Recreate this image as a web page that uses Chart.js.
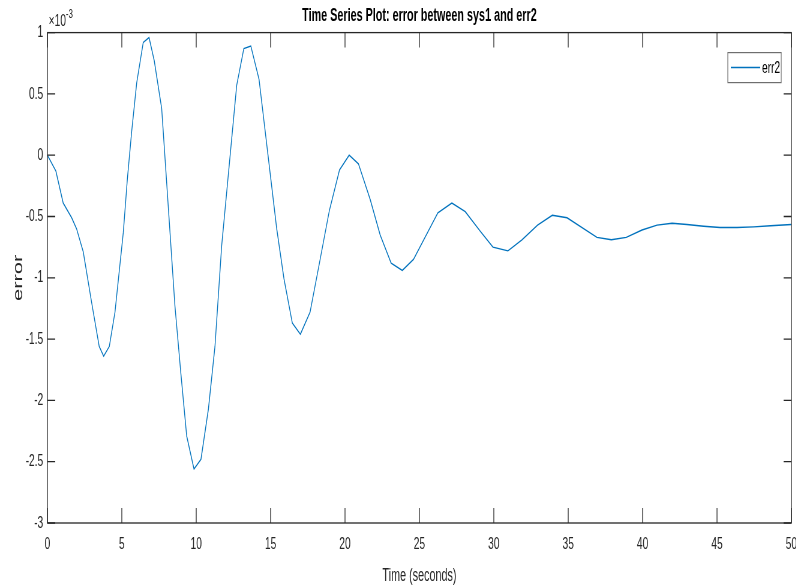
<!DOCTYPE html>
<html>
<head>
<meta charset="utf-8">
<title>Time Series Plot: error between sys1 and err2</title>
<script src="https://cdn.jsdelivr.net/npm/chart.js@4.4.1/dist/chart.umd.min.js"></script>
<style>
    html, body {
        margin: 0;
        padding: 0;
        background: #ffffff;
        overflow: hidden;
    }
    /* the figure is drawn wide and squeezed horizontally, like the reference */
    #plot-wrap {
        width: 1327px;
        height: 588px;
        transform: scaleX(0.6);
        transform-origin: 0 0;
    }
</style>
</head>
<body>
<div id="plot-wrap">
    <canvas id="error-chart" width="1327" height="588"></canvas>
</div>
<script>
// Time series data (error values in units of 1e-3)
const timeValues = [
    0, 0.57, 1.06, 1.63, 1.96, 2.41, 2.97, 3.48, 3.78, 4.16,
    4.54, 5.10, 5.37, 5.66, 6.00, 6.44, 6.83, 7.18, 7.68, 8.57,
    8.96, 9.36, 9.85, 10.32, 10.82, 11.26, 11.71, 12.72, 13.20, 13.67,
    14.22, 15.41, 15.90, 16.46, 17.00, 17.65, 18.28, 18.95, 19.63, 20.28,
    20.90, 21.69, 22.36, 23.10, 23.85, 24.60, 26.24, 27.18, 28.08, 29.09,
    29.94, 30.95, 31.89, 32.94, 33.93, 34.92, 36.93, 37.90, 38.90, 39.96,
    40.97, 41.98, 42.98, 44.10, 45.20, 46.35, 47.47, 48.60, 50.00
];
const errorValues = [
    0, -0.13, -0.39, -0.51, -0.60, -0.79, -1.20, -1.56, -1.64, -1.56,
    -1.28, -0.63, -0.20, 0.19, 0.59, 0.92, 0.96, 0.77, 0.38, -1.23,
    -1.77, -2.29, -2.56, -2.48, -2.07, -1.56, -0.74, 0.57, 0.87, 0.89,
    0.62, -0.60, -1.01, -1.37, -1.46, -1.28, -0.88, -0.45, -0.12, 0.00,
    -0.07, -0.36, -0.65, -0.88, -0.94, -0.85, -0.47, -0.39, -0.46, -0.62,
    -0.75, -0.78, -0.69, -0.57, -0.49, -0.51, -0.67, -0.69, -0.67, -0.61,
    -0.57, -0.555, -0.565, -0.58, -0.59, -0.59, -0.585, -0.575, -0.565
];
const seriesLabel = 'err2';
const xTickStep = 5;
const yTickStep = 0.5;
const yExponentLabel = ['\u00d710', '-3'];

const axisColor = '#262626';
const fontFamily = "'Liberation Sans', Arial, Helvetica, sans-serif";

Chart.defaults.font.family = fontFamily;

/**
 * Draws the MATLAB style box with inward tick marks on all four sides
 */
const axesBoxPlugin = {
    id: 'axesBox',
    afterDatasetsDraw(chart) {
        const { ctx, chartArea: area, scales } = chart;
        ctx.save();
        ctx.strokeStyle = axisColor;
        ctx.lineWidth = 1.3;
        ctx.strokeRect(area.left, area.top, area.right - area.left, area.bottom - area.top);

        ctx.beginPath();
        scales.x.ticks.forEach(tick => {
            const px = scales.x.getPixelForValue(tick.value);
            ctx.moveTo(px, area.bottom);
            ctx.lineTo(px, area.bottom - 15);
            ctx.moveTo(px, area.top);
            ctx.lineTo(px, area.top + 15);
        });
        scales.y.ticks.forEach(tick => {
            const py = scales.y.getPixelForValue(tick.value);
            ctx.moveTo(area.left, py);
            ctx.lineTo(area.left + 13, py);
            ctx.moveTo(area.right, py);
            ctx.lineTo(area.right - 13, py);
        });
        ctx.stroke();

        // exponent note above the y axis
        ctx.fillStyle = axisColor;
        ctx.textBaseline = 'alphabetic';
        ctx.textAlign = 'left';
        ctx.font = `17px ${fontFamily}`;
        ctx.fillText(yExponentLabel[0], area.left + 2, 26);
        const w = ctx.measureText(yExponentLabel[0]).width;
        ctx.font = `13px ${fontFamily}`;
        ctx.fillText(yExponentLabel[1], area.left + 2 + w, 18);
        ctx.restore();
    }
};

/**
 * Draws the boxed legend in the upper right corner of the axes
 */
const boxLegendPlugin = {
    id: 'boxLegend',
    afterDraw(chart) {
        const { ctx, chartArea: area } = chart;
        const dataset = chart.data.datasets[0];
        const boxW = 89;
        const boxH = 30;
        const left = area.right - 17 - boxW;
        const top = area.top + 20;

        ctx.save();
        ctx.fillStyle = '#ffffff';
        ctx.fillRect(left, top, boxW, boxH);
        ctx.strokeStyle = '#6e6e6e';
        ctx.lineWidth = 1.2;
        ctx.strokeRect(left, top, boxW, boxH);

        ctx.strokeStyle = dataset.borderColor;
        ctx.lineWidth = 1.5;
        ctx.beginPath();
        ctx.moveTo(left + 5, top + boxH / 2);
        ctx.lineTo(left + 54, top + boxH / 2);
        ctx.stroke();

        ctx.fillStyle = '#000000';
        ctx.font = `17px ${fontFamily}`;
        ctx.textBaseline = 'middle';
        ctx.fillText(dataset.label, left + 57, top + boxH / 2 + 1);
        ctx.restore();
    }
};

const ctx = document.getElementById('error-chart').getContext('2d');

const errorChart = new Chart(ctx, {
    type: 'line',
    data: {
        datasets: [{
            label: seriesLabel,
            data: timeValues.map((t, i) => ({ x: t, y: errorValues[i] })),
            borderColor: '#0072BD',
            borderWidth: 1.4,
            pointRadius: 0,
            tension: 0,
            fill: false
        }]
    },
    options: {
        responsive: false,
        animation: false,
        devicePixelRatio: 1,
        layout: {
            padding: { left: 0, right: 8, top: 0, bottom: 0 }
        },
        plugins: {
            legend: { display: false },
            tooltip: { enabled: false },
            title: {
                display: true,
                fullSize: false,
                text: 'Time Series Plot: error between sys1 and err2',
                color: '#000000',
                font: { family: fontFamily, size: 18, weight: 'bold' },
                padding: { top: 5, bottom: 6 }
            }
        },
        scales: {
            x: {
                type: 'linear',
                min: 0,
                max: 50,
                grid: { display: false, drawTicks: false },
                border: { display: false },
                ticks: {
                    stepSize: xTickStep,
                    autoSkip: false,
                    maxRotation: 0,
                    padding: 11,
                    color: axisColor,
                    font: { family: fontFamily, size: 17 },
                    callback: value => String(value)
                },
                title: {
                    display: true,
                    text: 'Time (seconds)',
                    color: axisColor,
                    font: { family: fontFamily, size: 18 },
                    padding: { top: 0, bottom: 1 }
                },
                afterFit(scale) {
                    scale.height = 65;
                    scale.paddingLeft = 0;
                    scale.paddingRight = 0;
                }
            },
            y: {
                type: 'linear',
                min: -3,
                max: 1,
                grid: { display: false, drawTicks: false },
                border: { display: false },
                ticks: {
                    stepSize: yTickStep,
                    padding: 7,
                    color: axisColor,
                    font: { family: fontFamily, size: 17 },
                    callback: value => String(value)
                },
                title: {
                    display: true,
                    text: 'error',
                    color: axisColor,
                    font: { family: fontFamily, size: 22 },
                    padding: { top: 18, bottom: 0 }
                },
                afterFit(scale) {
                    scale.width = 79;
                    scale.paddingTop = 0;
                    scale.paddingBottom = 0;
                }
            }
        }
    },
    plugins: [axesBoxPlugin, boxLegendPlugin]
});
</script>
</body>
</html>
